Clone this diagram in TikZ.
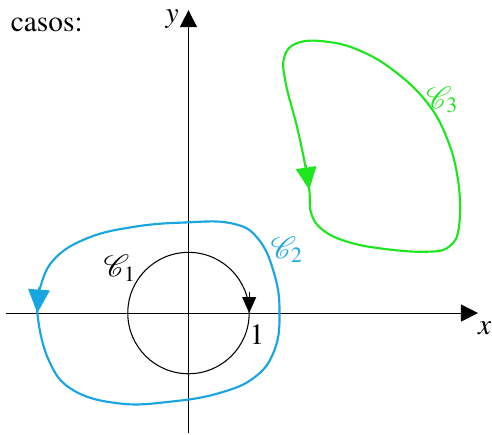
\documentclass[tikz,border=0pt]{standalone}
\usepackage[T1]{fontenc}
\usepackage{mathptmx}
\usepackage{mathrsfs}
\usetikzlibrary{arrows.meta}
\definecolor{CTWOBLUE}{RGB}{25,165,225}
\definecolor{CTHREEGREEN}{RGB}{30,230,30}

\begin{document}
\begin{tikzpicture}[
  font=\fontsize{13.8}{16}\selectfont,
  %% Axes — thin black with filled triangle tips
  axis/.style={line width=0.5pt, -{Triangle[length=8pt,width=8pt]}},
  %% Closed curves
  curveone/.style={line width=0.5pt},
  curvetwo/.style={draw=CTWOBLUE, line width=1pt},
  curvethree/.style={draw=CTHREEGREEN, line width=1pt},
  %% Direction marks on the curves
  dirone/.style={line width=0.5pt, -{Triangle[length=7.5pt,width=6.5pt]}},
  dirtwo/.style={CTWOBLUE, line width=1pt, -{Triangle[length=11pt,width=10pt]}},
  dirthree/.style={CTHREEGREEN, line width=1pt, -{Triangle[length=10.5pt,width=9.5pt]}},
  lbl/.style={inner sep=1pt}
]
\useasboundingbox (-3.105,-1.993) rectangle (5.0,5.157);

%% ── Axes ─────────────────────────────────────────────────────
\coordinate (xl) at (-3.0, 0);
\coordinate (xr) at ( 4.77, 0);
\coordinate (yb) at (0, -1.98);
\coordinate (yt) at (0,  4.99);
\draw[axis] (xl) -- (xr);
\draw[axis] (yb) -- (yt);
\node[lbl] (xlbl) at (4.88, -0.25) {$x$};
\node[lbl] (ylbl) at (-0.27, 4.85) {$y$};
\node[lbl, anchor=base west] (txt) at (-2.97, 4.63) {casos:};

%% ── C1: unit circle, clockwise ───────────────────────────────
\draw[curveone] (0,0) circle[radius=1];
\coordinate (t1a) at (1, 0.35);
\coordinate (t1b) at (1, 0);
\draw[dirone] (t1a) -- (t1b);
\node[lbl] (one) at (1.13, -0.36) {$1$};
\node[lbl] (c1) at (-1.13, 0.74) {$\mathscr{C}_1$};

%% ── C2: around the circle, counter-clockwise ─────────────────
\draw[curvetwo]
  plot[smooth cycle, tension=0.7] coordinates {
    (-2.49, 0) (-2.30,-0.78) (-1.90,-1.27) (-1.13,-1.49)
    (-0.30,-1.46) (0.50,-1.32) (1.10,-1.05) (1.42,-0.60)
    (1.50, 0) (1.42, 0.62) (1.15, 1.22) (0.70, 1.48)
    (-0.10, 1.49) (-0.90, 1.42) (-1.65, 1.24) (-2.20, 0.90)
    (-2.44, 0.43)};
\coordinate (t2a) at (-2.46, 0.42);
\coordinate (t2b) at (-2.49, 0);
\draw[dirtwo] (t2a) -- (t2b);
\node[lbl, text=CTWOBLUE] (c2) at (1.62, 1.04) {$\mathscr{C}_2$};

%% ── C3: away from the origin, counter-clockwise ──────────────
\draw[curvethree]
  plot[smooth cycle, tension=0.7] coordinates {
    (1.99, 2.03) (2.02, 1.65) (2.20, 1.38) (2.60, 1.18) (3.20, 1.06)
    (3.92, 1.01) (4.30, 1.10) (4.46, 1.45) (4.44, 2.19)
    (4.25, 2.90) (3.92, 3.48) (3.40, 3.98) (2.83, 4.32) (2.28, 4.47)
    (1.80, 4.45) (1.58, 4.22) (1.60, 3.80) (1.78, 3.10)
    (1.91, 2.50)};
\coordinate (t3a) at (1.93, 2.44);
\coordinate (t3b) at (1.99, 2.03);
\draw[dirthree] (t3a) -- (t3b);
\node[lbl, text=CTHREEGREEN] (c3) at (4.18, 3.51) {$\mathscr{C}_3$};

\end{tikzpicture}
\end{document}
